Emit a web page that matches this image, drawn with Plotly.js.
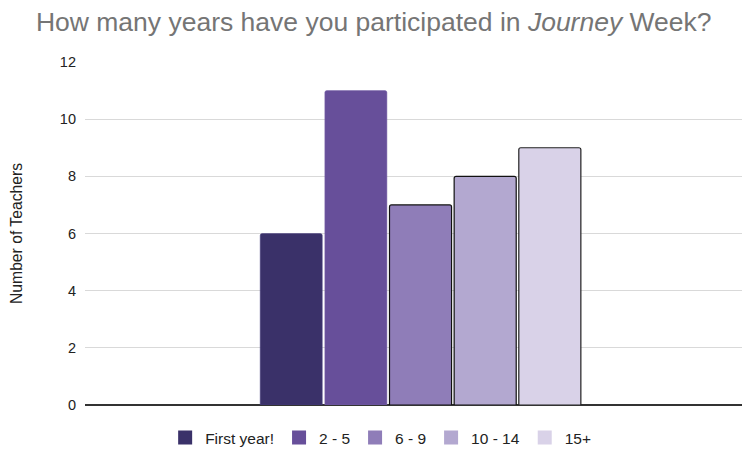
<!DOCTYPE html>
<html>
<head>
<meta charset="utf-8">
<script src="https://cdn.plot.ly/plotly-3.0.1.min.js"></script>
<style>html,body{margin:0;padding:0;background:#fff;}#chart{width:743px;height:449px;}</style>
</head>
<body>
<div id="chart"></div>
<script>
const seriesNames = ["First year!", "2 - 5", "6 - 9", "10 - 14", "15+"];
const teacherCounts = [6, 11, 7, 8, 9];
const seriesColors = ["#3a3169", "#674f9a", "#8f7db8", "#b3a8d0", "#d9d2e8"];
const outlineColors = ["#4a4080", "#7a65aa", "#111111", "#111111", "#222222"];
const yTicks = [0, 2, 4, 6, 8, 10, 12];

const barTraces = seriesNames.map((name, i) => ({
  type: 'bar',
  name: name,
  legendgroup: name,
  showlegend: false,
  x: [0],
  y: [teacherCounts[i]],
  marker: {color: seriesColors[i], line: {color: outlineColors[i], width: i < 2 ? 0.5 : 1.2}},
  hoverinfo: 'y+name'
}));
// legend swatches (flat squares, as in the reference legend)
const legendTraces = seriesNames.map((name, i) => ({
  type: 'scatter', mode: 'markers',
  name: name, legendgroup: name, showlegend: true,
  x: [null], y: [null],
  marker: {symbol: 'square', size: 14, color: seriesColors[i], line: {width: 0}}
}));

const layout = {
  width: 743, height: 449,
  margin: {l: 85, r: 1, t: 62, b: 44},
  paper_bgcolor: '#fff', plot_bgcolor: '#fff',
  font: {family: 'Liberation Sans, Arial, sans-serif', size: 14, color: '#222'},
  title: {text: 'How many years have you participated in <i>Journey</i> Week?',
          font: {size: 26.5, color: '#757575'}, x: 0.503, xanchor: 'center', y: 0.951, yanchor: 'middle', yref: 'container'},
  barmode: 'group', bargap: 0.508, bargroupgap: 0.04, barcornerradius: 2,
  xaxis: {range: [-0.5107, 0.4893], showticklabels: false, showgrid: false, zeroline: false, showline: false, fixedrange: true},
  yaxis: {range: [0, 12], tickvals: yTicks, ticktext: yTicks.map(String), showgrid: true, gridcolor: '#d9d9d9', gridwidth: 1,
          zeroline: true, zerolinecolor: '#333', zerolinewidth: 1.5, ticks: '', ticklen: 0, ticklabelstandoff: 8,
          tickfont: {size: 14.5, color: '#222'},
          title: {text: 'Number of Teachers', font: {size: 15.7, color: '#222'}, standoff: 33}},
  showlegend: true,
  legend: {orientation: 'h', x: 0.45, xanchor: 'center', xref: 'paper', y: 0.0245, yref: 'container', yanchor: 'middle',
           font: {size: 15.5, color: '#222'}, traceorder: 'normal', itemwidth: 30}
};

Plotly.newPlot('chart', barTraces.concat(legendTraces), layout, {displayModeBar: false, staticPlot: true});
</script>
</body>
</html>
